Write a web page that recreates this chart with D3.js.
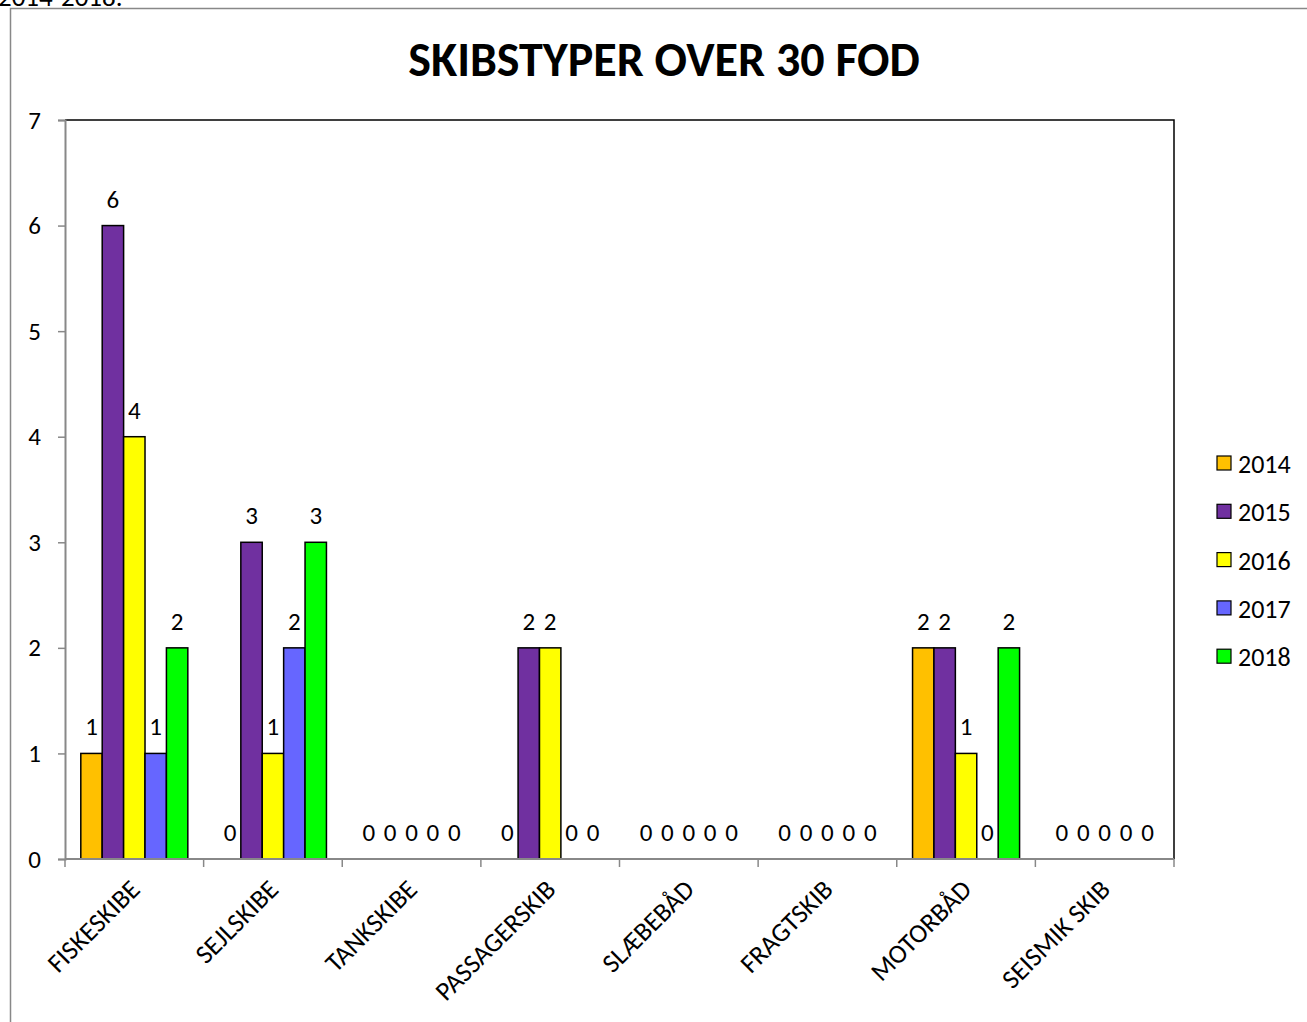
<!DOCTYPE html>
<html>
<head>
<meta charset="utf-8">
<script src="https://cdn.jsdelivr.net/npm/d3@7"></script>
<style>
body{margin:0;background:#fff;}
text{font-family:Carlito,Calibri,Lato,"Open Sans",sans-serif;}
</style>
</head>
<body>
<svg id="chart" width="1307" height="1022"></svg>
<script>
// ship types and yearly counts
var categories = ['FISKESKIBE','SEJLSKIBE','TANKSKIBE','PASSAGERSKIB','SLÆBEBÅD','FRAGTSKIB','MOTORBÅD','SEISMIK SKIB'];
var years = ['2014','2015','2016','2017','2018'];
var v2014 = [1,0,0,0,0,0,2,0];
var v2015 = [6,3,0,2,0,0,2,0];
var v2016 = [4,1,0,2,0,0,1,0];
var v2017 = [1,2,0,0,0,0,0,0];
var v2018 = [2,3,0,0,0,0,2,0];
var yTicks = [0,1,2,3,4,5,6,7];
var colors = ['#FFC000','#7030A0','#FFFF00','#6666FF','#00FF00'];

var series = [v2014,v2015,v2016,v2017,v2018];
var svg = d3.select('#chart');
var fs = 25;

//cut off caption + frame
svg.append('text').attr('x',-2).attr('y',6).attr('font-size',27).text('2014-2018.');
svg.append('rect').attr('x',10.5).attr('y',8.5).attr('width',1320).attr('height',1040)
	.attr('fill','none').attr('stroke','#888').attr('stroke-width',1.5);

var pLeft = 65, pRight = 1174, pTop = 120, pBottom = 859;

var x = d3.scaleBand().domain(categories).range([pLeft,pRight]).paddingInner(0.228).paddingOuter(0.114);
var xs = d3.scaleBand().domain(years).range([0,x.bandwidth()]);
var y = d3.scaleLinear().domain([0,7]).range([pBottom,pTop]);

svg.append('text').attr('x',664).attr('y',76).attr('text-anchor','middle')
	.attr('font-size',48).attr('font-weight','bold').text('SKIBSTYPER OVER 30 FOD');

// top + right border of plot area
svg.append('path').attr('d','M'+pLeft+','+pTop+'H'+pRight+'V'+pBottom).attr('fill','none').attr('stroke','#000').attr('stroke-width',1.5);

var groups = svg.selectAll('g.cat').data(categories).enter().append('g')
	.attr('transform',function(d){return 'translate('+x(d)+',0)'});

groups.each(function(cat,ci){
	var g = d3.select(this);
	years.forEach(function(yr,si){
		var val = series[si][ci];
		if(val>0){
			g.append('rect').attr('x',xs(yr)).attr('y',y(val)).attr('width',xs.bandwidth()).attr('height',pBottom-y(val))
				.attr('fill',colors[si]).attr('stroke','#000').attr('stroke-width',1.5);
		}
		g.append('text').attr('x',xs(yr)+xs.bandwidth()/2).attr('y',y(val)-18).attr('text-anchor','middle')
			.attr('font-size',fs).text(val);
	})
})

// y axis
var yAxis = svg.append('g').attr('transform','translate('+pLeft+',0)')
	.call(d3.axisLeft(y).tickValues(yTicks).tickSize(7).tickPadding(17).tickFormat(d3.format('d')));
yAxis.select('.domain').attr('stroke','#888').attr('stroke-width',2);
yAxis.selectAll('.tick line').attr('stroke','#888').attr('stroke-width',1.5);
yAxis.selectAll('text').attr('font-size',fs).attr('fill','#000').attr('font-family','Carlito,Calibri,Lato,sans-serif');

// x axis
var xAxis = svg.append('g').attr('transform','translate(0,'+pBottom+')');
xAxis.append('line').attr('x1',pLeft).attr('x2',pRight).attr('stroke','#888').attr('stroke-width',2);
var step = (pRight-pLeft)/categories.length;
xAxis.selectAll('line.tk').data(d3.range(categories.length+1)).enter().append('line')
	.attr('x1',function(d){return pLeft+d*step}).attr('x2',function(d){return pLeft+d*step})
	.attr('y1',0).attr('y2',8).attr('stroke','#888').attr('stroke-width',1.5);
xAxis.selectAll('text').data(categories).enter().append('text')
	.attr('transform',function(d){return 'translate('+(x(d)+x.bandwidth()/2+7)+',32) rotate(-45)'})
	.attr('text-anchor','end').attr('font-size',26.5).text(function(d){return d});

// legend
var legend = svg.append('g').attr('transform','translate(1217,0)');
years.forEach(function(yr,i){
	var ly = 464 + i*48.3;
	legend.append('rect').attr('x',0).attr('y',ly-8).attr('width',14).attr('height',14)
		.attr('fill',colors[i]).attr('stroke','#000').attr('stroke-width',1.2);
	legend.append('text').attr('x',21).attr('y',ly+9).attr('font-size',26).text(yr);
})
</script>
</body>
</html>
